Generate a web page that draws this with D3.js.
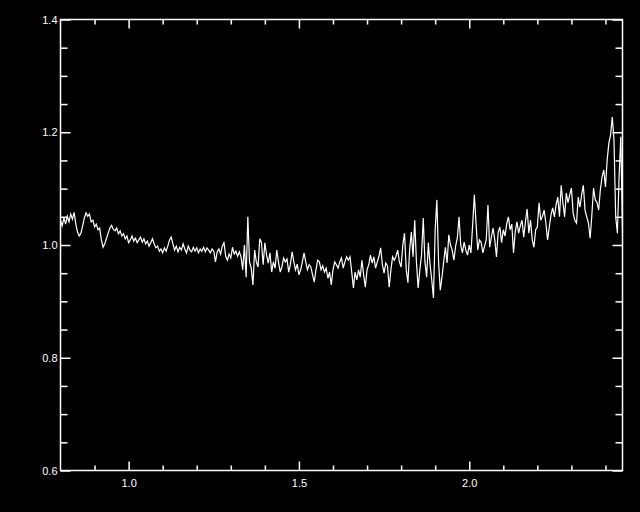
<!DOCTYPE html>
<html>
<head>
<meta charset="utf-8">
<script src="https://cdn.jsdelivr.net/npm/d3@7"></script>
<style>
  html, body { margin: 0; padding: 0; background: #000; }
  svg { display: block; }
</style>
</head>
<body>
<svg id="chart"></svg>
<script>
// wavelength sampling of the spectrum (microns)
const waveStart = 0.80
const waveStep = 0.005

// flux values, one per sample
const flux = [
  1.044, 1.034, 1.048, 1.037, 1.051, 1.041, 1.055, 1.046, 1.058, 1.037,
  1.023, 1.016, 1.021, 1.034, 1.048, 1.057, 1.051, 1.055, 1.041, 1.044,
  1.032, 1.037, 1.027, 1.030, 1.009, 0.996, 1.002, 1.012, 1.021, 1.030,
  1.035, 1.028, 1.025, 1.030, 1.020, 1.025, 1.016, 1.020, 1.011, 1.016,
  1.004, 1.009, 1.016, 1.007, 1.012, 1.004, 1.009, 1.014, 1.005, 1.011,
  1.002, 1.007, 0.998, 1.004, 1.011, 1.002, 0.995, 0.998, 0.989, 0.993,
  0.986, 0.995, 0.989, 0.998, 1.009, 1.014, 1.002, 0.991, 0.998, 0.988,
  0.996, 0.991, 1.002, 0.993, 0.986, 0.998, 0.991, 0.988, 0.996, 0.989,
  0.995, 0.986, 0.993, 0.989, 0.996, 0.988, 0.995, 0.991, 0.986, 0.993,
  0.989, 0.970, 0.988, 0.993, 0.984, 0.998, 1.004, 0.980, 0.973, 0.984,
  0.977, 0.996, 0.984, 0.989, 0.980, 0.988, 0.979, 0.956, 1.000, 0.943,
  1.050, 0.970, 0.959, 0.929, 0.991, 0.970, 0.961, 1.011, 1.004, 0.965,
  1.004, 0.982, 0.968, 0.986, 0.952, 0.970, 0.959, 0.991, 0.970, 0.952,
  0.961, 0.977, 0.970, 0.975, 0.952, 0.966, 0.988, 0.970, 0.956, 0.966,
  0.947, 0.956, 0.970, 0.986, 0.970, 0.956, 0.965, 0.961, 0.947, 0.934,
  0.956, 0.973, 0.970, 0.956, 0.963, 0.952, 0.959, 0.941, 0.952, 0.929,
  0.956, 0.970, 0.965, 0.959, 0.970, 0.977, 0.959, 0.970, 0.979, 0.973,
  0.979, 0.952, 0.924, 0.952, 0.938, 0.956, 0.943, 0.973, 0.947, 0.925,
  0.956, 0.965, 0.982, 0.968, 0.979, 0.959, 0.970, 0.980, 0.995, 0.965,
  0.950, 0.968, 0.963, 0.925, 0.956, 0.979, 0.973, 0.980, 0.991, 0.970,
  0.961, 1.000, 1.021, 0.956, 0.933, 0.991, 1.023, 0.979, 1.044, 0.970,
  0.924, 0.956, 0.982, 1.048, 0.970, 0.943, 1.004, 0.965, 0.938, 0.906,
  1.027, 1.080, 0.970, 0.920, 0.943, 0.970, 0.996, 0.968, 1.018, 1.000,
  0.991, 0.973, 0.998, 1.012, 1.050, 1.000, 0.986, 1.005, 0.991, 0.982,
  1.000, 0.986, 1.035, 1.089, 1.039, 0.991, 1.009, 1.005, 0.986, 0.998,
  1.009, 1.071, 0.996, 1.014, 1.030, 1.009, 0.979, 1.023, 1.032, 1.004,
  1.027, 1.016, 1.037, 1.050, 1.027, 1.037, 0.986, 1.023, 1.041, 1.021,
  1.034, 1.044, 1.014, 1.041, 1.064, 1.021, 1.044, 1.009, 0.996, 1.027,
  1.032, 1.075, 1.044, 1.051, 1.062, 1.039, 1.009, 1.032, 1.053, 1.066,
  1.050, 1.071, 1.085, 1.050, 1.106, 1.075, 1.050, 1.092, 1.075, 1.089,
  1.101, 1.057, 1.044, 1.039, 1.085, 1.067, 1.089, 1.106, 1.062, 1.050,
  1.039, 1.012, 1.053, 1.101, 1.080, 1.076, 1.062, 1.098, 1.121, 1.133,
  1.103, 1.151, 1.181, 1.195, 1.227, 1.186, 1.050, 1.021, 1.121, 1.192,
  1.021
]

const xMajor = [1.0, 1.5, 2.0]
const yMajor = [0.6, 0.8, 1.0, 1.2, 1.4]

const width = 640, height = 512
const margin = { top: 19.5, right: 17.5, bottom: 41.5, left: 60.5 }
const innerW = width - margin.left - margin.right
const innerH = height - margin.top - margin.bottom

const svg = d3.select('#chart')
  .attr('width', width)
  .attr('height', height)
  .style('background', '#000')

const x = d3.scaleLinear().domain([0.8, 2.45]).range([margin.left, margin.left + innerW])
const y = d3.scaleLinear().domain([0.6, 1.4]).range([margin.top + innerH, margin.top])

const points = flux.map((f, i) => ({ w: waveStart + i * waveStep, f: f }))

// spectrum
const line = d3.line().x(d => x(d.w)).y(d => y(d.f))
svg.append('path')
  .datum(points)
  .attr('fill', 'none')
  .attr('stroke', '#fff')
  .attr('stroke-width', 1.2)
  .attr('stroke-linejoin', 'miter')
  .attr('d', line)

// frame
svg.append('rect')
  .attr('x', margin.left)
  .attr('y', margin.top)
  .attr('width', innerW)
  .attr('height', innerH)
  .attr('fill', 'none')
  .attr('stroke', '#fff')
  .attr('stroke-width', 1.5)

const xMinor = d3.range(9, 25).map(v => v / 10).filter(v => !xMajor.some(m => Math.abs(m - v) < 1e-6))
const yMinor = d3.range(12, 29).map(v => v / 20).filter(v => !yMajor.some(m => Math.abs(m - v) < 1e-6))

function styleAxis(g) {
  g.select('.domain').remove()
  g.selectAll('line').attr('stroke', '#fff').attr('stroke-width', 1.5)
  g.selectAll('text')
    .attr('fill', '#fff')
    .style('font-family', 'Liberation Sans, Arial, sans-serif')
    .style('font-size', '11px')
}

const bottomY = margin.top + innerH
const rightX = margin.left + innerW

// bottom axis
svg.append('g').attr('transform', `translate(0,${bottomY})`)
  .call(d3.axisTop(x).tickValues(xMajor).tickSize(9).tickFormat(''))
  .call(styleAxis)
svg.append('g').attr('transform', `translate(0,${bottomY})`)
  .call(d3.axisTop(x).tickValues(xMinor).tickSize(5).tickFormat(''))
  .call(styleAxis)
svg.append('g').attr('transform', `translate(0,${bottomY})`)
  .call(d3.axisBottom(x).tickValues(xMajor).tickSize(0).tickPadding(9).tickFormat(d3.format('.1f')))
  .call(styleAxis)

// top axis
svg.append('g').attr('transform', `translate(0,${margin.top})`)
  .call(d3.axisBottom(x).tickValues(xMajor).tickSize(9).tickFormat(''))
  .call(styleAxis)
svg.append('g').attr('transform', `translate(0,${margin.top})`)
  .call(d3.axisBottom(x).tickValues(xMinor).tickSize(5).tickFormat(''))
  .call(styleAxis)

// left axis
svg.append('g').attr('transform', `translate(${margin.left},0)`)
  .call(d3.axisRight(y).tickValues(yMajor).tickSize(10).tickFormat(''))
  .call(styleAxis)
svg.append('g').attr('transform', `translate(${margin.left},0)`)
  .call(d3.axisRight(y).tickValues(yMinor).tickSize(7).tickFormat(''))
  .call(styleAxis)
svg.append('g').attr('transform', `translate(${margin.left},0)`)
  .call(d3.axisLeft(y).tickValues(yMajor).tickSize(0).tickPadding(3).tickFormat(d3.format('.1f')))
  .call(styleAxis)

// right axis
svg.append('g').attr('transform', `translate(${rightX},0)`)
  .call(d3.axisLeft(y).tickValues(yMajor).tickSize(10).tickFormat(''))
  .call(styleAxis)
svg.append('g').attr('transform', `translate(${rightX},0)`)
  .call(d3.axisLeft(y).tickValues(yMinor).tickSize(7).tickFormat(''))
  .call(styleAxis)
</script>
</body>
</html>
